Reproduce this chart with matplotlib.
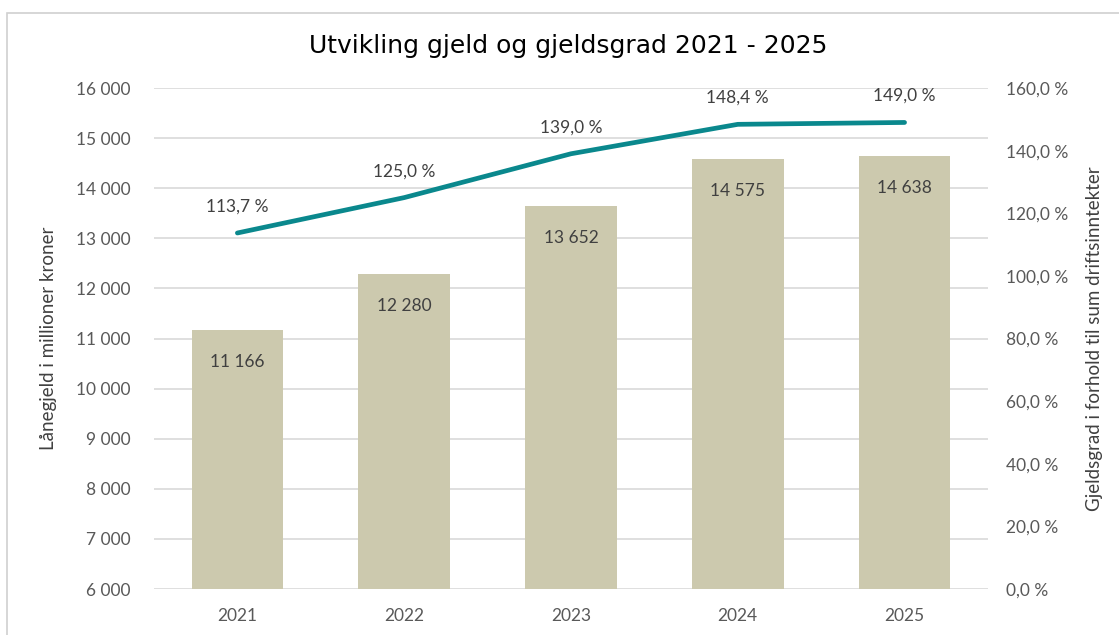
import matplotlib.pyplot as plt
from matplotlib.patches import Rectangle
from matplotlib.ticker import FuncFormatter

# data
years = ["2021", "2022", "2023", "2024", "2025"]
debt = [11166, 12280, 13652, 14575, 14638]
debt_ratio = [113.7, 125.0, 139.0, 148.4, 149.0]

bar_color = "#CCC9AE"
line_color = "#0A888D"
tick_color = "#595959"
label_color = "#404040"

plt.rcParams["font.family"] = ["Lato", "DejaVu Sans"]


def nok(v):
    return f"{v:,.0f}".replace(",", " ")


def pct(v):
    return f"{v:.1f}".replace(".", ",") + " %"


fig = plt.figure(figsize=(11.19, 6.35), dpi=100)
ax = fig.add_axes([0.1376, 0.0724, 0.7453, 0.7890])
ax2 = ax.twinx()

# bars
x = list(range(len(years)))
bars = ax.bar(x, debt, width=0.55, color=bar_color, zorder=2)
ax.set_ylim(6000, 16000)
ax.set_yticks(range(6000, 16001, 1000))
ax.yaxis.set_major_formatter(FuncFormatter(lambda v, p: nok(v)))
ax.set_xlim(-0.5, 4.5)
ax.set_xticks(x)
ax.set_xticklabels(years)
ax.grid(axis="y", color="#D9D9D9", lw=1.2, zorder=0)
ax.set_axisbelow(True)

for xi, v in zip(x, debt):
    ax.annotate(nok(v), (xi, v), xytext=(0, -23), textcoords="offset points",
                ha="center", va="center", fontsize=12.5, color=label_color)

# line
ax2.plot(x, debt_ratio, color=line_color, lw=3.4, solid_capstyle="round", zorder=3)
ax2.set_ylim(0, 160)
ax2.set_yticks(range(0, 161, 20))
ax2.yaxis.set_major_formatter(FuncFormatter(lambda v, p: pct(v)))
for xi, v in zip(x, debt_ratio):
    ax2.annotate(pct(v), (xi, v), xytext=(0, 19), textcoords="offset points",
                 ha="center", va="center", fontsize=12.5, color=label_color)

for a in (ax, ax2):
    for s in a.spines.values():
        s.set_visible(False)
    a.tick_params(length=0, labelsize=12.5, labelcolor=tick_color)
ax.tick_params(axis="y", pad=17)
ax.tick_params(axis="x", pad=14)
ax2.tick_params(axis="y", pad=13)

ax.set_ylabel("Lånegjeld i millioner kroner", fontsize=13.5, color=label_color)
ax.yaxis.label.set_verticalalignment("center")
ax.yaxis.set_label_coords(-0.127, 0.5)
ax2.set_ylabel("Gjeldsgrad i forhold til sum driftsinntekter", fontsize=13.5, color=label_color)
ax2.yaxis.label.set_verticalalignment("center")
ax2.yaxis.set_label_coords(1.128, 0.5)

fig.text(0.508, 0.927, "Utvikling gjeld og gjeldsgrad 2021 - 2025", ha="center", va="center",
         fontsize=18, color="black", family=["DejaVu Sans"])

# outer frame
fig.patches.append(Rectangle((7 / 1119, -0.1), 1.2, 1 - 13 / 635 + 0.1, transform=fig.transFigure,
                             fill=False, edgecolor="#D0D0D0", lw=1.2))

fig.savefig("out.png", dpi=100)
